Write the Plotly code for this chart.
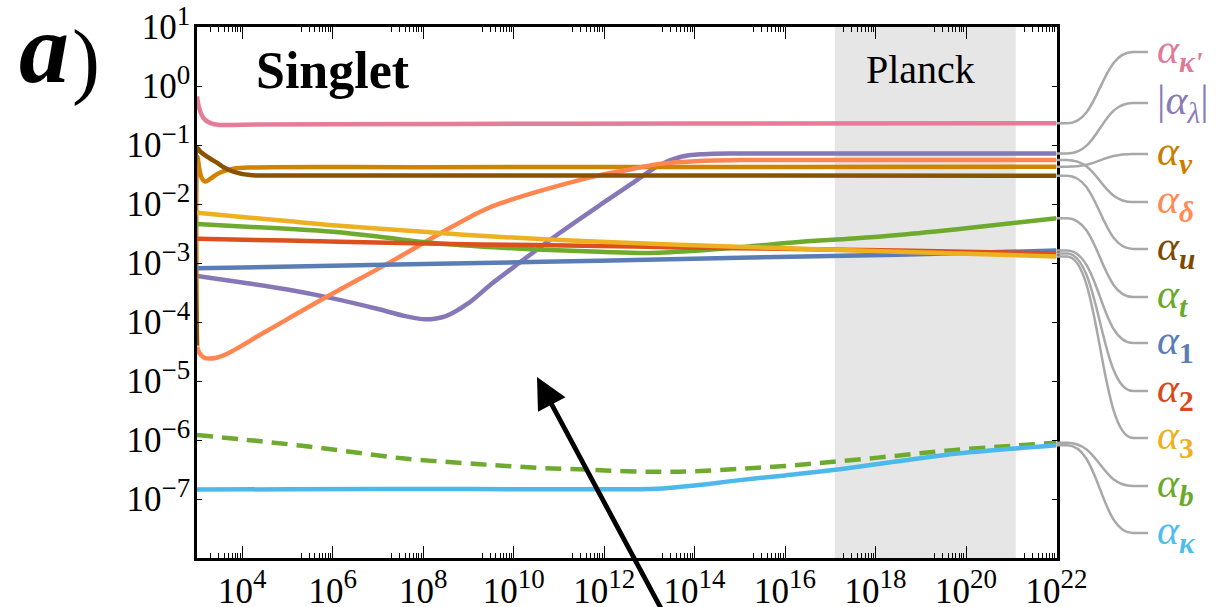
import plotly.graph_objects as go

# ---------------------------------------------------------------- data
# log10(mu) sample points and log10(alpha) values for each coupling
lg_mu_kp = [3.0, 3.05, 3.15, 3.3, 3.5, 4.0, 6.0, 10.0, 14.0, 22.0]
lg_kp = [-0.18, -0.38, -0.55, -0.63, -0.66, -0.655, -0.648, -0.64, -0.635, -0.632]

lg_mu_lam = [3.0, 4.0, 5.0, 6.0, 7.0, 7.6, 8.05, 8.5, 9.0, 9.5, 10.0, 11.0, 12.0,
             12.6, 13.23, 13.7, 14.2, 15.0, 22.0]
lg_lam = [-3.22, -3.33, -3.45, -3.60, -3.78, -3.90, -3.955, -3.9, -3.68, -3.36, -3.07,
          -2.50, -1.97, -1.66, -1.34, -1.20, -1.155, -1.142, -1.145]

lg_mu_v = [3.0, 3.008, 3.05, 3.1, 3.18, 3.3, 3.5, 3.8, 4.3, 8.0, 22.0]
lg_v = [-4.4, -1.2, -1.4, -1.55, -1.62, -1.57, -1.47, -1.40, -1.38, -1.375, -1.368]

lg_mu_d = [3.0, 3.05, 3.15, 3.29, 3.6, 4.5, 5.76, 7.0, 7.49, 8.44, 9.26, 9.7, 10.8,
           11.91, 12.6, 13.23, 14.1, 15.0, 22.0]
lg_d = [-4.42, -4.52, -4.60, -4.62, -4.56, -4.17, -3.62, -3.10, -2.89, -2.47, -2.13,
        -1.99, -1.73, -1.51, -1.41, -1.32, -1.27, -1.256, -1.254]

lg_mu_u = [3.0, 3.005, 3.07, 3.25, 3.44, 3.6, 3.8, 4.17, 5.0, 22.0]
lg_u = [-4.4, -1.05, -1.11, -1.21, -1.30, -1.38, -1.45, -1.51, -1.515, -1.52]

lg_mu_t = [3.0, 4.0, 5.0, 6.0, 7.0, 7.93, 9.26, 10.5, 11.9, 13.0, 14.1, 15.2, 16.3,
           17.5, 18.5, 20.0, 22.0]
lg_t = [-2.34, -2.38, -2.42, -2.47, -2.55, -2.64, -2.72, -2.77, -2.81, -2.83, -2.79,
        -2.72, -2.645, -2.585, -2.525, -2.41, -2.24]

lg_mu_1 = [3.0, 6.0, 9.26, 11.9, 15.0, 18.5, 22.0]
lg_1 = [-3.09, -3.045, -3.0, -2.96, -2.91, -2.86, -2.79]

lg_mu_2 = [3.0, 5.0, 7.49, 9.26, 11.9, 13.23, 15.0, 18.5, 22.0]
lg_2 = [-2.59, -2.62, -2.66, -2.685, -2.71, -2.73, -2.75, -2.79, -2.84]

lg_mu_3 = [3.0, 4.0, 5.0, 6.0, 8.0, 9.26, 11.91, 14.0, 16.0, 18.5, 22.0]
lg_3 = [-2.15, -2.22, -2.29, -2.36, -2.47, -2.54, -2.64, -2.70, -2.75, -2.81, -2.89]

lg_mu_b = [3.0, 4.0, 5.0, 6.0, 7.53, 9.26, 10.5, 11.6, 12.5, 13.3, 14.0, 15.0, 16.0,
           17.07, 18.3, 19.58, 21.0, 22.0]
lg_b = [-5.915, -5.99, -6.07, -6.16, -6.31, -6.41, -6.47, -6.50, -6.53, -6.54, -6.53,
        -6.49, -6.44, -6.37, -6.28, -6.18, -6.10, -6.045]

lg_mu_k = [3.0, 5.0, 8.0, 11.0, 12.5, 13.3, 14.0, 15.0, 16.0, 17.07, 18.3, 19.58,
           21.0, 22.0]
lg_k = [-6.84, -6.835, -6.83, -6.835, -6.835, -6.82, -6.77, -6.68, -6.60, -6.51,
        -6.38, -6.25, -6.15, -6.09]

# Planck band, log10(mu)
planck_band = [17.1, 21.1]

# axis ticks
x_major_exp = list(range(4, 23, 2))
x_minor_dec = list(range(3, 22, 2))
y_major_exp = list(range(-7, 2))

# --------------------------------------------------------------- layout
W, H = 1219, 607
PL, PR, PT, PB = 197, 1056.5, 27, 558
X_RANGE = [3, 22]
Y_RANGE = [-8, 1]
FONT = "Liberation Serif, Times New Roman, DejaVu Serif, serif"
SUP_PX = 27

series = [
    # label html, x, y, line colour, label colour, dash
    ("<i>α</i><sub><b><i>κ'</i></b></sub>", lg_mu_kp, lg_kp, "#E57D99", "#E07A98", "solid"),
    ("|<i>α</i><sub><i>λ</i></sub>|", lg_mu_lam, lg_lam, "#8677B6", "#8A7BB8", "solid"),
    ("<i>α</i><sub><b><i>v</i></b></sub>", lg_mu_v, lg_v, "#D08200", "#C97E00", "solid"),
    ("<i>α</i><sub><b><i>δ</i></b></sub>", lg_mu_d, lg_d, "#FF8650", "#FF8A55", "solid"),
    ("<i>α</i><sub><b><i>u</i></b></sub>", lg_mu_u, lg_u, "#8A5300", "#7E4A00", "solid"),
    ("<i>α</i><sub><b><i>t</i></b></sub>", lg_mu_t, lg_t, "#6DAA2D", "#6AAA2A", "solid"),
    ("<i>α</i><sub><b>1</b></sub>", lg_mu_1, lg_1, "#5A7DB5", "#5B7DB6", "solid"),
    ("<i>α</i><sub><b>2</b></sub>", lg_mu_2, lg_2, "#DD4F1C", "#D84A1B", "solid"),
    ("<i>α</i><sub><b>3</b></sub>", lg_mu_3, lg_3, "#EDB021", "#EEAF20", "solid"),
    ("<i>α</i><sub><b><i>b</i></b></sub>", lg_mu_b, lg_b, "#6DAA2D", "#6AAA2A", "16px,9px"),
    ("<i>α</i><sub><b><i>κ</i></b></sub>", lg_mu_k, lg_k, "#4DB9EA", "#4FBDEB", "solid"),
]
LABEL_Y = [52, 103, 154, 202, 249, 297, 343, 391, 438, 486, 533]
LABEL_X = 1155


def pw(e):
    """10 to the power e, as a float."""
    return 10.0 ** e


def to_px(lg_val):
    """Vertical pixel position of a log10 value on the main y axis."""
    return PT + (Y_RANGE[1] - lg_val) / (Y_RANGE[1] - Y_RANGE[0]) * (PB - PT)


def power_label(e):
    """Tick text 10^e with a larger-than-default exponent."""
    exp = str(e).replace("-", "−")
    return f"10<sup><span style='font-size:{SUP_PX}px'>{exp}</span></sup>"


fig = go.Figure()

# Planck shaded band
fig.add_trace(go.Scatter(
    x=[pw(planck_band[0]), pw(planck_band[1]), pw(planck_band[1]), pw(planck_band[0])],
    y=[pw(Y_RANGE[0]), pw(Y_RANGE[0]), pw(Y_RANGE[1]), pw(Y_RANGE[1])],
    fill="toself", fillcolor="#E6E6E6", line=dict(width=0), mode="lines",
    hoverinfo="skip", showlegend=False))

# running couplings
for name, xs, ys, col, _, dash in series:
    fig.add_trace(go.Scatter(
        x=[pw(v) for v in xs], y=[pw(v) for v in ys], mode="lines",
        line=dict(color=col, width=4.5, dash=dash, shape="spline", smoothing=1.0),
        name=name, showlegend=False))

# carrier for the minor-tick axis and the full-page pixel axes
fig.add_trace(go.Scatter(x=[], y=[], xaxis="x2", yaxis="y", showlegend=False))
fig.add_trace(go.Scatter(x=[], y=[], xaxis="x3", yaxis="y3", showlegend=False))

tick_font = dict(family=FONT, size=35, color="black")
x_dom = [PL / W, PR / W]
y_dom = [(H - PB) / H, (H - PT) / H]

fig.update_layout(
    width=W, height=H, margin=dict(l=0, r=0, t=0, b=0),
    paper_bgcolor="white", plot_bgcolor="rgba(0,0,0,0)", showlegend=False,
    font=dict(family=FONT),
    xaxis=dict(
        type="log", range=X_RANGE, domain=x_dom, anchor="y",
        tickvals=[pw(e) for e in x_major_exp],
        ticktext=[power_label(e) for e in x_major_exp],
        ticks="inside", ticklen=12, tickwidth=1.4, tickcolor="black",
        showline=True, linewidth=2.5, linecolor="black", mirror="ticks",
        showgrid=False, zeroline=False, tickfont=tick_font, automargin=False,
        ticklabeloverflow="allow",
    ),
    xaxis2=dict(
        type="log", range=X_RANGE, overlaying="x", anchor="y", side="bottom",
        tickvals=[m * pw(d) for d in x_minor_dec for m in range(2, 10)],
        ticks="inside", ticklen=5, tickwidth=1.1, tickcolor="black",
        showticklabels=False, showline=False, mirror="ticks",
        showgrid=False, zeroline=False, automargin=False,
    ),
    yaxis=dict(
        type="log", range=Y_RANGE, domain=y_dom, anchor="x",
        tickvals=[pw(e) for e in y_major_exp],
        ticktext=[power_label(e) for e in y_major_exp],
        ticks="inside", ticklen=5, tickwidth=1.4, tickcolor="black",
        showline=True, linewidth=2.5, linecolor="black", mirror="ticks",
        showgrid=False, zeroline=False, tickfont=tick_font, automargin=False,
        ticklabelstandoff=-3, ticklabeloverflow="allow",
    ),
    xaxis3=dict(domain=[0, 1], range=[0, W], anchor="y3", visible=False, fixedrange=True),
    yaxis3=dict(domain=[0, 1], range=[H, 0], anchor="x3", visible=False, fixedrange=True),
)

# label connectors and labels
shapes = []
annotations = []
for (name, xs, ys, col, lab_col, dash), ly in zip(series, LABEL_Y):
    y0 = to_px(ys[-1])
    shapes.append(dict(
        type="path", xref="x3", yref="y3",
        path=f"M {PR},{y0:.2f} L 1067,{y0:.2f} C 1100,{y0:.2f} 1100,{ly} 1133,{ly} L 1148,{ly}",
        line=dict(color="#A8A8A8", width=2.5), layer="above"))
    annotations.append(dict(
        x=LABEL_X, y=ly, xref="x3", yref="y3", xanchor="left", yanchor="middle",
        text=name, showarrow=False, font=dict(family=FONT, size=42, color=lab_col)))

annotations += [
    dict(x=333, y=70, xref="x3", yref="y3", text="<b>Singlet</b>", showarrow=False,
         font=dict(family=FONT, size=52, color="black")),
    dict(x=920, y=69, xref="x3", yref="y3", text="Planck", showarrow=False,
         font=dict(family=FONT, size=40, color="black")),
    dict(x=44, y=48, xref="x3", yref="y3", text="<b><i>a</i></b>", showarrow=False,
         font=dict(family=FONT, size=100, color="black")),
    dict(x=86, y=60, xref="x3", yref="y3", text=")", showarrow=False,
         font=dict(family=FONT, size=84, color="black")),
    dict(x=537, y=377, xref="x3", yref="y3", axref="x3", ayref="y3", ax=664, ay=614,
         text="", showarrow=True, arrowhead=2, arrowwidth=4.8, arrowsize=1.3,
         arrowcolor="black", standoff=0),
]
fig.update_layout(shapes=shapes, annotations=annotations)

fig.write_html("out.html")
